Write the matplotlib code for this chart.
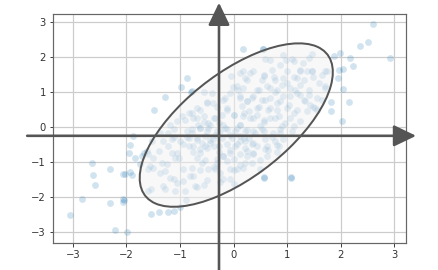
import matplotlib
matplotlib.use("Agg")
import matplotlib.pyplot as plt
from matplotlib.patches import Ellipse, FancyArrowPatch, ArrowStyle

# ---- data ----
pts_x = [
    -3.06, -2.83, -2.64, -2.63, -2.59, -2.31, -2.31, -2.22, -1.99, -2.07, -2.07, -2.05, -2.07, -2.02, -1.93, -1.90,
    -1.96, -1.93, -1.88, -1.75, -1.70, -1.67, -1.62, -1.59, -1.54, -1.54, -1.39, -1.23, -1.11, -1.00, -0.89, -1.49,
    -1.28, -0.98, -0.86, -0.80, 0.17, 0.55, 2.60, 2.51, 2.35, 2.92, 2.18, 2.22, 1.98, 1.87, 1.96, 2.04, 1.95, 2.05,
    2.15, 1.82, 1.82, 2.03, 1.08, 0.57, 0.01, -0.25,
    1.71, 1.75, 1.71, 1.55, 1.52, 1.43, 1.46, 1.46, 1.48,
    0.18, 0.12, 0.21, -0.05, -0.01, -0.16, 0.09, 0.18, -0.56, -0.41, -0.78, -0.50, -0.39, 0.12, 0.25, 0.15, -0.13,
    -0.69, -0.56, -0.75, -0.35, -0.22, 0.00, 0.18, 0.28, -0.44, -0.19, 0.12, -0.66,
    0.54, 0.59, 0.68, 0.93, 0.98, 1.09, 1.12, 1.30, 1.40, 0.31, 0.71, 0.87, 1.24, 1.37, 0.56, 0.53, 0.77, 0.93, 1.18,
    0.99, 1.24, 0.68, 0.43, 0.81, 1.15, 1.40, 0.34, 0.53, 0.68, 0.87, 1.05, 1.24, 1.33, 0.43, 0.65, 0.81, 0.99, 1.18,
    1.37, 0.37, 0.56, 0.77, 1.05, 1.24, 0.49, 0.90, 1.12,
    -0.97, -0.90, -1.06, -0.84, -1.18,
    -1.56, -1.59, -1.50, -1.40, -1.50, -1.34, -1.25, -1.28, -1.15, -1.09, -1.01, -1.06, -1.22, -0.94, -1.15, -1.00,
    -0.87, -0.84, -0.94, -1.12, -1.18, -1.06, -1.32, -1.28, -1.09, -0.90, -0.94, -1.84, -1.22, -1.12, -1.31, -1.53,
    -1.59,
    -0.75, -0.63, -0.53, -0.44, -0.69, -0.59, -0.47, -0.75, -0.56, -0.72, -0.35, -0.19, -0.07, 0.06, 0.18, 0.21, 0.00,
    -0.19, -0.31, -0.07, 0.12, 0.25, -0.28, -0.13, 0.06, 0.21, -0.78, -0.63, -0.47, -0.31, -0.13, 0.06, 0.21, -0.69,
    -0.53, -0.38, -0.22, -0.03, 0.12, 0.28, -0.07, -0.78,
    0.37, 0.53, 0.74, 0.87, 1.09, 0.34, 0.43, 0.59, 0.65, 0.84, 0.37, 0.34, 0.49, 0.56, 1.07, 0.59, 0.77, 0.93,
    -0.78, -0.68, -0.56, -0.47, -0.37, -0.62, -0.50, -0.78, -0.87, -0.68, -0.59, -0.44, -0.34, -0.25, -0.16, -0.06,
    0.03, -0.84, -0.75, -0.62, -0.50, -0.37, -0.28, -0.19, -0.06, 0.03, 0.12, -0.53, -0.31, -0.12,
    0.12, 0.25, 0.37, 0.47, 0.59, 0.68, 0.81, 0.93, 1.03, 1.12, 0.19, 0.31, 0.44, 0.56, 0.68, 0.84, 0.96, 0.12, 0.25,
    0.40, 0.56, 0.72, 0.87, 0.19, 0.37, 0.62, 0.81, 0.47, 0.62, 0.78, 0.90, 1.06, 1.18, 1.31, 1.40, 1.49, 1.31, 1.46,
    1.59, 1.65, 1.71, 1.65, 1.56, 1.24, 1.12, 1.00, 0.75, 0.56, 0.37, 0.25, 0.06, -0.06, -0.19, -0.31, -0.50, -0.62,
    -0.12, 0.00, -0.28,
    -1.37, -1.12, -1.37, -0.81, -0.68, -0.50, -0.62, -0.37, -0.25, 0.00, 0.12, 0.25, 0.37, 0.50, 0.62, 0.81, 0.22,
]
pts_y = [
    -2.54, -2.06, -1.04, -1.39, -1.67, -1.21, -2.18, -2.95, -3.02, -2.07, -2.15, -2.09, -1.34, -1.35, -1.29, -1.38,
    -0.74, -0.53, -0.25, -1.06, -0.85, -0.74, -0.68, -1.83, -1.79, -2.50, -2.45, -2.45, -2.42, -2.30, -2.09, 0.48,
    0.86, 1.13, 1.39, 1.01, 2.22, 2.22, 2.94, 2.43, 2.31, 1.97, 1.97, 1.74, 2.10, 2.02, 1.63, 1.65, 1.39, 1.08,
    0.72, 0.72, 0.44, 0.18, -1.45, -1.45, -1.63, -1.57,
    1.59, 1.61, 1.11, 0.83, 0.54, 0.62, 2.09, 1.59, 1.42,
    1.59, 1.54, 1.40, 1.45, 1.13, 0.83, 1.06, 1.11, 1.00, 0.97, 1.02, 0.71, 0.68, 0.83, 0.73, 0.59, 0.54,
    0.54, 0.30, 0.25, 0.25, 0.35, 0.35, 0.30, 0.44, 0.06, 0.06, 0.06, 0.06,
    2.24, 1.95, 1.92, 2.07, 1.92, 1.95, 1.88, 1.83, 1.97, 1.54, 1.64, 1.76, 1.64, 1.59, 1.45, 1.35, 1.35, 1.40, 1.40,
    1.25, 1.21, 1.11, 1.06, 1.06, 1.06, 1.06, 0.83, 0.78, 0.83, 0.73, 0.87, 0.92, 0.73, 0.54, 0.49, 0.49, 0.54, 0.49,
    0.44, 0.25, 0.20, 0.25, 0.25, 0.16, 0.01, 0.01, 0.01,
    0.30, 0.20, 0.16, 0.40, 0.06,
    -1.12, -1.20, -1.17, -0.69, -0.88, -1.03, -1.07, -1.27, -0.74, -0.88, -0.88, -0.74, -0.55, -0.50, -0.36, -0.41,
    -0.12, -0.31, -1.22, -1.50, -1.46, -1.60, -1.70, -1.79, -1.84, -1.84, -1.55, -0.88, -0.17, -0.07, -0.41, -0.41,
    -0.79,
    -0.55, -0.64, -0.55, -0.46, -0.88, -1.03, -1.22, -1.41, -1.68, -1.70, -1.22, -1.50, -1.22, -1.22, -1.17, -1.03,
    -0.93, -0.84, -0.93, -0.74, -0.79, -0.69, -0.55, -0.50, -0.50, -0.41, -0.07, -0.03, -0.03, -0.12, -0.07, -0.03,
    -0.12, -0.31, -0.26, -0.36, -0.31, -0.31, -0.26, -0.31, -1.50, -1.17,
    -0.12, -0.07, -0.17, -0.07, -0.12, -0.50, -0.55, -0.64, -0.66, -0.55, -0.79, -1.03, -1.22, -1.46, -1.46, -0.36,
    -0.41, -0.36,
    0.39, 0.25, 0.15, 0.11, 0.25, -0.04, -0.13, -0.18, -0.28, -0.37, -0.47, -0.37, -0.23, -0.13, -0.04, -0.23,
    -0.13, -0.56, -0.71, -0.75, -0.61, -0.56, -0.71, -0.85, -0.66, -0.56, -0.42, -0.95, -1.04, -0.99,
    0.87, 0.73, 0.87, 0.58, 0.77, 0.53, 0.68, 0.87, 0.63, 0.39, 0.39, 0.25, 0.34, 0.15, 0.25, 0.30, 0.11, 0.06, -0.09,
    -0.18, -0.13, -0.28, -0.18, -0.32, -0.47, -0.56, -0.52, 1.06, 1.16, 1.01, 1.20, 1.11, 0.96, 0.77, 0.92, 0.58, 1.35,
    1.59, 1.25, 1.49, 1.16, 0.77, 0.49, 1.59, 1.44, 1.59, 1.44, 1.49, 1.59, 1.35, 1.16, 0.96, 0.77, 0.58, 0.68, 0.49,
    0.49, 0.34, 0.11,
    -0.18, -0.28, -1.33, -1.42, -1.71, -1.52, -1.23, -1.14, -1.33, -1.23, -1.09, -0.85, -0.75, -0.95, -0.85, -0.71,
    -0.61,
]

ellipse_center = (0.05, 0.05)
ellipse_width = 5.41
ellipse_height = 2.375
ellipse_angle = 56.1

xticks = [-3, -2, -1, 0, 1, 2, 3]
yticks = [-3, -2, -1, 0, 1, 2, 3]

# ---- figure ----
fig = plt.figure(figsize=(438 / 72, 270 / 72), dpi=72)
ax = fig.add_axes([0.121, 0.101, 0.805, 0.847])

ax.scatter(pts_x, pts_y, s=46, color="#1f77b4", alpha=0.2, linewidths=0, zorder=2)

ell = Ellipse(ellipse_center, width=ellipse_width, height=ellipse_height, angle=ellipse_angle,
              facecolor=(0.95, 0.95, 0.95, 0.5), edgecolor="#555555", linewidth=2.0, zorder=3)
ax.add_patch(ell)

ax.set_xlim(-3.37, 3.21)
ax.set_ylim(-3.32, 3.23)
ax.set_xticks(xticks)
ax.set_yticks(yticks)
ax.set_xticklabels(["\u2212" + str(-t) if t < 0 else str(t) for t in xticks])
ax.set_yticklabels(["\u2212" + str(-t) if t < 0 else str(t) for t in yticks])
ax.grid(True, color="#cccccc", linewidth=1.2, zorder=0)
ax.set_axisbelow(True)
for sp in ax.spines.values():
    sp.set_color("#666666")
    sp.set_linewidth(1.2)
ax.tick_params(colors="#444444", labelsize=10, length=3.5, width=1, labelcolor="#333333")

style = ArrowStyle("-|>", head_length=1.0, head_width=0.48)
a1 = FancyArrowPatch((0.062, 0.497), (0.95, 0.497), transform=fig.transFigure,
                     arrowstyle=style, mutation_scale=19, color="#555555", linewidth=2.6,
                     shrinkA=0, shrinkB=0, zorder=10)
a2 = FancyArrowPatch((0.5, 0.0), (0.5, 0.99), transform=fig.transFigure,
                     arrowstyle=style, mutation_scale=19, color="#555555", linewidth=2.6,
                     shrinkA=0, shrinkB=0, zorder=10)
fig.add_artist(a1)
fig.add_artist(a2)

fig.savefig("out.png", dpi=72)
